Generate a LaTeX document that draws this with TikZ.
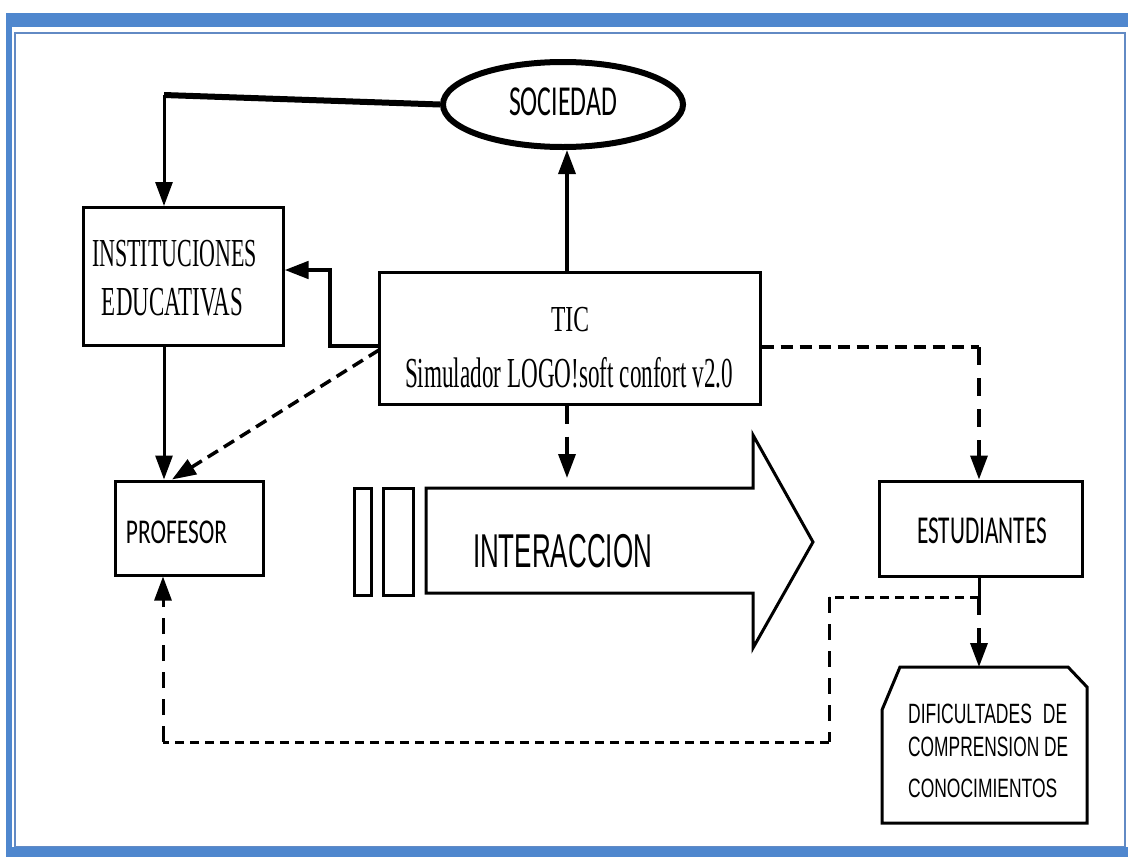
\documentclass[tikz,border=0pt]{standalone}
\usepackage{fontspec}
\usepackage{graphicx}
\usetikzlibrary{arrows.meta,shapes.geometric}
\newfontfamily\carl{Carlito}
\newfontfamily\arl{Liberation Sans}
\newfontfamily\tms{Liberation Serif}
% #1 width, #2 cap height, #3 font, #4 cap height per mille, #5 text
\newcommand{\fitbox}[5]{\resizebox{#1pt}{\height}{\dimen0=\dimexpr #2pt*1000/#4\relax\fontsize{\the\dimen0}{12pt}#3#5}}
\definecolor{band}{RGB}{79,135,206}
\definecolor{thinb}{RGB}{98,138,196}
\begin{document}
\begin{tikzpicture}[x=1pt,y=-1pt,
  box/.style={draw, line width=3pt, inner sep=0pt, fill=white},
  txt/.style={inner sep=0pt, anchor=base},
  tipa/.style={-{Triangle[length=24pt,width=17pt]}},
  sol/.style={line width=3pt, tipa},
  dsh/.style={line width=3.5pt, dash pattern=on 12pt off 7pt},
  dshv/.style={line width=3.5pt, dash pattern=on 18pt off 13pt}]
\useasboundingbox (0,0) rectangle (1128,857);
\fill[white] (0,0) rectangle (1128,857);
% frame
\draw[thinb, line width=2.5pt] (15,33) rectangle (1125,847);
\fill[band] (6,13) rectangle (1128,27);
\fill[band] (6,13) rectangle (12,857);
\fill[band] (6,847) rectangle (1128,857);

% nodes
\node[box, ellipse, line width=6pt, minimum width=240pt, minimum height=85pt] (soc) at (563,104.5) {};
\node[box, minimum width=200pt, minimum height=138pt] (inst) at (183,276.5) {};
\node[box, minimum width=381pt, minimum height=132pt] (tic) at (569.5,338) {};
\node[box, minimum width=148pt, minimum height=94pt] (prof) at (189,528) {};
\node[box, minimum width=203pt, minimum height=95pt] (est) at (980.5,528.5) {};

% big arrow and bars
\draw[line width=3pt, fill=white] (426,488) -- (753,488) -- (753,435) -- (813,542) -- (753,648) -- (753,593) -- (426,593) -- cycle;
\draw[line width=3pt] (354,488) rectangle (371,595);
\draw[line width=3pt] (383,488) rectangle (413,595);
\coordinate (itop) at (567,478);

% dificultades shape
\draw[line width=3pt, fill=white] (900,667) -- (1068,667) -- (1087,687) -- (1087,823) -- (882,823) -- (882,710) -- cycle;
\coordinate (dtop) at (979,667);

% texts
\node[txt] (soc-t) at (563,115) {\fitbox{108}{27}{\carl}{632}{SOCIEDAD}};
\node[txt] (inst-t1) at (174.5,266) {\fitbox{165}{26}{\tms}{655}{INSTITUCIONES}};
\node[txt] (inst-t2) at (172.5,315) {\fitbox{141}{27}{\tms}{655}{EDUCATIVAS}};
\node[txt] (tic-t1) at (570,331) {\fitbox{38}{24}{\tms}{655}{TIC}};
\node[txt] (tic-t2) at (569,387) {\fitbox{328}{28}{\tms}{655}{Simulador LOGO!soft confort v2.0}};
\node[txt] (prof-t) at (176.5,543) {\fitbox{101}{22}{\carl}{632}{PROFESOR}};
\node[txt] (est-t) at (982,543) {\fitbox{130}{25}{\carl}{632}{ESTUDIANTES}};
\node[txt] (int-t) at (562.5,567) {\fitbox{179}{34}{\arl}{716}{INTERACCION}};
\node[txt, anchor=base west] (dif-t1) at (908,723) {\fitbox{159}{20}{\arl}{716}{DIFICULTADES\hspace{0.35em} DE}};
\node[txt, anchor=base west] (dif-t2) at (908,756) {\fitbox{160}{20}{\arl}{716}{COMPRENSION DE}};
\node[txt, anchor=base west] (dif-t3) at (908,797) {\fitbox{149}{19}{\arl}{716}{CONOCIMIENTOS}};

% connectors
\coordinate (c1) at (164,95);
\draw[line width=6pt] (soc.west) -- (c1);
\draw[sol] (c1) -- (c1 |- inst.north);
\draw[sol] (c1 |- inst.south) -- (c1 |- prof.north);

\coordinate (tsx) at (567,0);
\draw[sol, line width=3.5pt] (tsx |- tic.north) -- (tsx |- soc.south);

\coordinate (b1) at (330,346);
\coordinate (b2) at (330,270);
\draw[sol, line width=4.5pt] (b1 -| tic.west) -- (b1) -- (b2) -- (b2 -| inst.east);

\coordinate (b3) at (379,350);
\coordinate (p1) at (172,0);
\draw[dsh, tipa] (b3) -- (p1 |- prof.north);

\coordinate (b4) at (979,347);
\draw[dsh, line width=4pt] (b4 -| tic.east) -- (b4);
\draw[dshv, tipa] (b4) -- (b4 |- est.north);

\draw[dshv, tipa] (tsx |- tic.south) -- (itop);

\coordinate (b5) at (979,597);
\draw[line width=3pt] (b5 |- est.south) -- (b5);
\draw[dshv, tipa] (b5) -- (dtop);

\coordinate (b6) at (829,597);
\coordinate (b7) at (829,742);
\coordinate (b8) at (163,742);
\draw[line width=3pt, dash pattern=on 9pt off 6pt] (b5) -- (b6);
\draw[line width=3pt, dash pattern=on 16pt off 11pt] (b6) -- (b7);
\draw[line width=3pt, dash pattern=on 9pt off 6pt] (b7) -- (b8);
\draw[line width=3pt, dash pattern=on 16pt off 11pt, tipa] (b8) -- (b8 |- prof.south);
\end{tikzpicture}
\end{document}
